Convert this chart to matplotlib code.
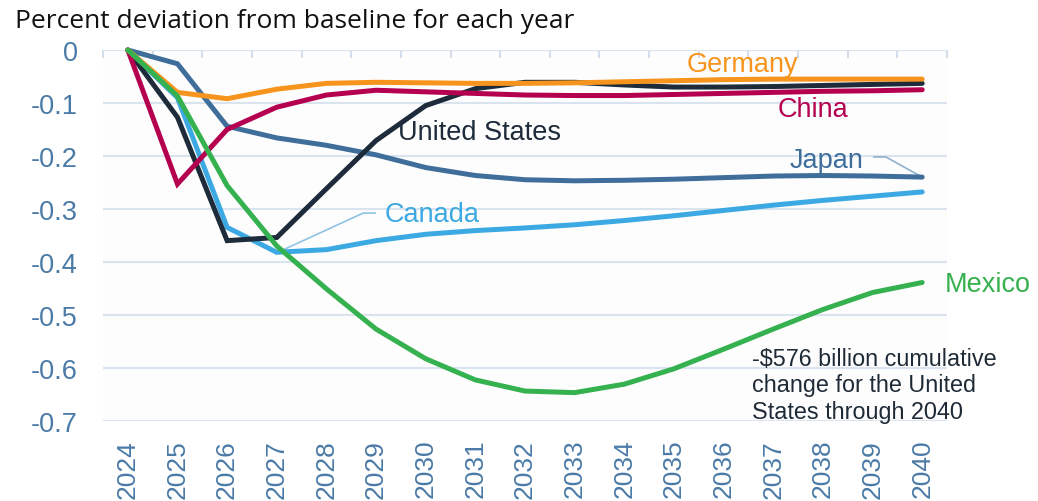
import matplotlib
matplotlib.use("Agg")
import matplotlib.pyplot as plt
import numpy as np

years = [str(y) for y in range(2024, 2041)]
united_states = [0, -0.127, -0.360, -0.354, -0.262, -0.171, -0.105, -0.073, -0.061, -0.061, -0.066, -0.070, -0.070, -0.069, -0.067, -0.065, -0.063]
germany = [0, -0.080, -0.092, -0.074, -0.063, -0.061, -0.062, -0.063, -0.063, -0.062, -0.060, -0.058, -0.056, -0.055, -0.055, -0.055, -0.055]
china = [0, -0.253, -0.150, -0.108, -0.085, -0.076, -0.079, -0.082, -0.085, -0.086, -0.086, -0.084, -0.082, -0.080, -0.078, -0.077, -0.075]
japan = [0, -0.026, -0.144, -0.166, -0.180, -0.198, -0.222, -0.237, -0.245, -0.247, -0.246, -0.244, -0.241, -0.238, -0.237, -0.238, -0.240]
canada = [0, -0.090, -0.335, -0.382, -0.377, -0.360, -0.348, -0.341, -0.336, -0.330, -0.322, -0.313, -0.303, -0.293, -0.284, -0.276, -0.268]
mexico = [0, -0.087, -0.256, -0.370, -0.451, -0.527, -0.583, -0.623, -0.644, -0.647, -0.631, -0.602, -0.565, -0.527, -0.490, -0.458, -0.439]
y_ticks = [0, -0.1, -0.2, -0.3, -0.4, -0.5, -0.6, -0.7]
y_labels = ["0", "-0.1", "-0.2", "-0.3", "-0.4", "-0.5", "-0.6", "-0.7"]

C_US = "#1d2b3a"
C_DE = "#f7941d"
C_CN = "#b5004f"
C_JP = "#3f6e9b"
C_CA = "#3ca9e2"
C_MX = "#36b14f"
C_TICK = "#4a7aa6"
C_GRID = "#dae4ef"

plt.rcParams['font.family'] = ['Liberation Sans', 'DejaVu Sans']

W, H = 1038, 502
fig = plt.figure(figsize=(W / 100, H / 100), dpi=100)
fig.patch.set_facecolor("white")
ax = fig.add_axes([103 / W, 1 - 421.7 / H, (947 - 103) / W, (421.7 - 51) / H])
ax.set_facecolor("#fdfdfe")

x = np.arange(len(years))
lw = 3.6
series = [(japan, C_JP), (canada, C_CA), (united_states, C_US), (china, C_CN), (germany, C_DE), (mexico, C_MX)]
for vals, col in series:
    ax.plot(x, vals, color=col, lw=lw, solid_capstyle="round", solid_joinstyle="miter", clip_on=False, zorder=3)

ax.set_xlim(-0.5, len(years) - 0.5)
ax.set_ylim(-0.7, 0)
ax.set_yticks(y_ticks)
ax.set_yticklabels(y_labels)
ax.set_xticks(x)
ax.set_xticklabels(years, rotation=90, va="top", ha="center")
ax.tick_params(axis="y", length=0, pad=18, labelsize=19.5, labelcolor=C_TICK)
ax.tick_params(axis="x", length=0, pad=13, labelsize=19, labelcolor=C_TICK)
ax.grid(axis="y", color=C_GRID, lw=1.5, zorder=0)
ax.set_axisbelow(True)
for s in ax.spines.values():
    s.set_visible(False)

# top axis with boundary ticks
sec = ax.secondary_xaxis("top")
sec.set_xticks(np.arange(-0.5, len(years) + 0.5, 1))
sec.tick_params(axis="x", direction="in", length=6, width=1.5, color="#d2deeb", labeltop=False)
for s in sec.spines.values():
    s.set_visible(False)

fs = 19.5
ax.text(12.37, -0.0264, "Germany", color=C_DE, fontsize=fs, ha="center", va="center")
ax.text(5.44, -0.155, "United States", color=C_US, fontsize=fs, ha="left", va="center")
ax.text(13.80, -0.111, "China", color=C_CN, fontsize=fs, ha="center", va="center")
ax.text(14.08, -0.208, "Japan", color=C_JP, fontsize=fs, ha="center", va="center")
ax.text(5.18, -0.310, "Canada", color=C_CA, fontsize=fs, ha="left", va="center")
ax.text(16.46, -0.442, "Mexico", color=C_MX, fontsize=fs, ha="left", va="center", clip_on=False)

# leader lines
ax.plot([15.03, 15.27, 16], [-0.202, -0.202, japan[-1]], color="#8fb0cc", lw=1.2, zorder=2)
ax.plot([3.02, 4.74, 4.98], [canada[3], -0.308, -0.308], color="#8ec3e3", lw=1.2, zorder=2)

ax.text(12.57, -0.560, "-$576 billion cumulative\nchange for the United\nStates through 2040",
        color="#1e2a36", fontsize=16.8, ha="left", va="top", linespacing=1.2)

fig.text(15 / W, 1 - 28 / H, "Percent deviation from baseline for each year",
         fontsize=19, family=["Open Sans", "DejaVu Sans"], color="#111111", ha="left", va="baseline")

fig.savefig("out.png", dpi=100)
